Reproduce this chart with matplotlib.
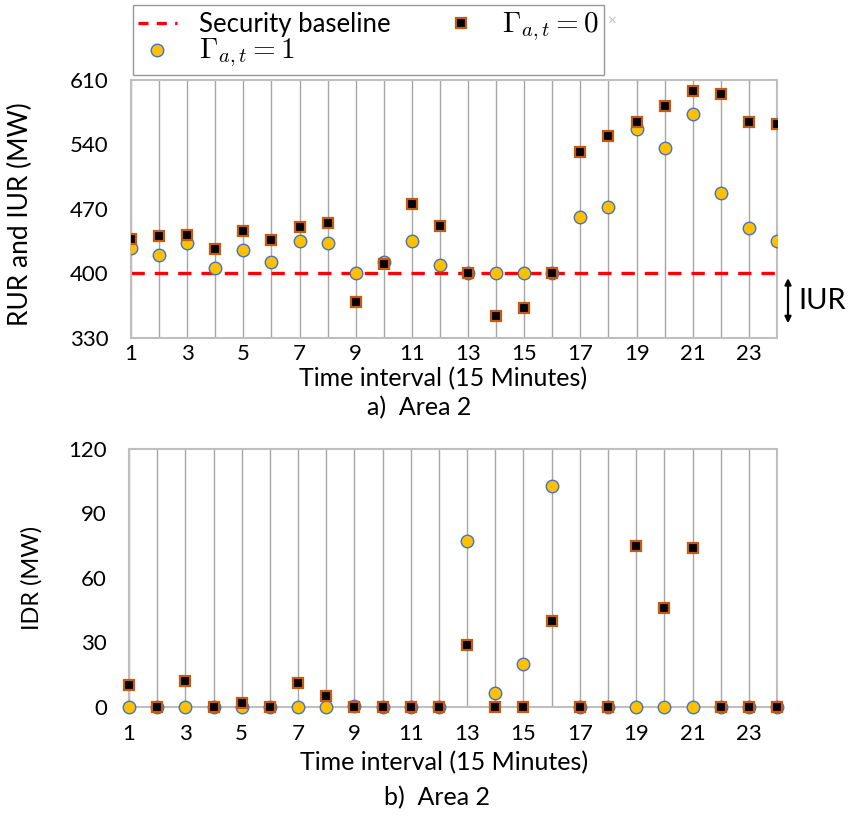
import numpy as np
import matplotlib.pyplot as plt

plt.rcParams['font.family'] = ['Lato', 'DejaVu Sans']
plt.rcParams['mathtext.fontset'] = 'cm'

t = np.arange(1, 25)

# reserve values (MW), area 2
rur_g1 = [428, 420, 433, 406, 425, 412, 435, 433, 400, 413, 435, 409,
          400, 400, 400, 400, 461, 472, 557, 536, 573, 487, 449, 435]
rur_g0 = [437, 441, 442, 427, 446, 436, 450, 455, 369, 410, 475, 451,
          400, 354, 363, 400, 532, 549, 564, 582, 598, 595, 564, 562]
idr_g1 = [0, 0, 0, 0, 0, 0, 0, 0, 0.5, 0, 0, 0,
          77, 6.5, 20, 103, 0, 0, 0, 0, 0, 0, 0, 0]
idr_g0 = [10, 0, 12, 0, 2, 0, 11, 5, 0, 0, 0, 0,
          29, 0, 0, 40, 0, 0, 75, 46, 74, 0, 0, 0]
baseline = 400
iur_span = (346, 395)
xticks = list(range(1, 24, 2))

circ = dict(marker='o', ls='none', ms=9, mfc='#FFC000', mec='#4472C4', mew=1.0)
sq = dict(marker='s', ls='none', ms=7, mfc='black', mec='#C55A11', mew=1.6)

fig = plt.figure(figsize=(8.55, 8.16), dpi=100)
ax1 = fig.add_axes([0.1532, 0.5858, 0.7556, 0.3162])
ax2 = fig.add_axes([0.1509, 0.1336, 0.7579, 0.3162])


def style(ax, ylim, yticks, xpad):
    ax.set_xlim(1, 24)
    ax.set_ylim(*ylim)
    ax.set_xticks(xticks)
    ax.set_yticks(yticks)
    ax.set_xticks(t, minor=True)
    ax.grid(True, axis='x', which='both', color='#a6a6a6', lw=1.0)
    ax.set_axisbelow(True)
    for s in ax.spines.values():
        s.set_color('#bfbfbf')
        s.set_linewidth(1.5)
    ax.tick_params(which='both', length=0, labelsize=16)
    ax.tick_params(axis='y', pad=16)
    ax.tick_params(axis='x', pad=xpad)


style(ax1, (330, 610), [330, 400, 470, 540, 610], 4)
ax1.axhline(baseline, color='red', ls=(0, (4, 3)), lw=2.4, zorder=2)
l_base, = ax1.plot([], [], color='red', ls=(0, (3, 2.5)), lw=2.4)
l1, = ax1.plot(t, rur_g1, zorder=3, **circ)
l0, = ax1.plot(t, rur_g0, zorder=4, **sq)
ax1.set_ylabel('RUR and IUR (MW)', fontsize=19)
ax1.yaxis.set_label_coords(-0.152, 0.48)
ax1.set_xlabel('Time interval (15 Minutes)', fontsize=18, va='center')
ax1.xaxis.set_label_coords(0.483, -0.159)
fig.text(0.490, 0.501, 'a)  Area 2', fontsize=18, ha='center', va='center')

# IUR arrow at the right side
ax1.annotate('', xy=(1.017, iur_span[0]), xytext=(1.017, iur_span[1]),
             xycoords=('axes fraction', 'data'), textcoords=('axes fraction', 'data'),
             arrowprops=dict(arrowstyle='<|-|>', color='black', lw=1.6,
                             mutation_scale=9, shrinkA=0, shrinkB=0),
             annotation_clip=False)
ax1.text(1.033, 370, 'IUR', transform=ax1.get_yaxis_transform(), fontsize=21,
         va='center', ha='left')

leg = fig.legend([l_base, l1, l0],
                 ['Security baseline', r'$\Gamma_{a,t}=1$', r'$\Gamma_{a,t}=0$'],
                 ncol=2, loc='upper left', bbox_to_anchor=(0.1556, 0.994),
                 fontsize=18.5, frameon=True, fancybox=False, edgecolor='#7f7f7f',
                 handlelength=1.5, columnspacing=2.0, handletextpad=0.85,
                 borderpad=0.2, labelspacing=0.0, borderaxespad=0)
leg.get_frame().set_linewidth(1.0)
for txt in leg.get_texts()[1:]:
    txt.set_fontsize(21)
fig.text(0.711, 0.975, '×', color='#c0c0c0', fontsize=11, va='center')

style(ax2, (0, 120), [0, 30, 60, 90, 120], 12)
ax2.plot(t, idr_g1, zorder=3, clip_on=False, **circ)
ax2.plot(t, idr_g0, zorder=4, clip_on=False, **sq)
ax2.set_ylabel('IDR (MW)', fontsize=17)
ax2.yaxis.set_label_coords(-0.134, 0.5)
ax2.set_xlabel('Time interval (15 Minutes)', fontsize=18, va='center')
ax2.xaxis.set_label_coords(0.486, -0.217)
fig.text(0.511, 0.022, 'b)  Area 2', fontsize=18, ha='center', va='center')

fig.savefig('out.png', dpi=100)
